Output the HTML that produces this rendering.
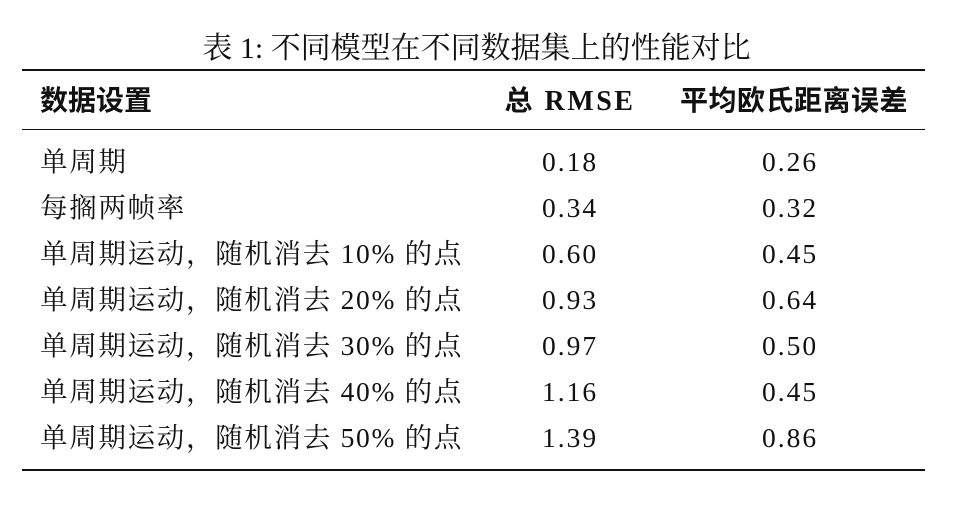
<!DOCTYPE html>
<html><head><meta charset="utf-8">
<style>
html,body{margin:0;padding:0;background:#fff;}
body{width:953px;height:531px;position:relative;overflow:hidden;font-family:"Liberation Serif","Noto Serif CJK SC",serif;color:#111;}
.t{position:absolute;white-space:nowrap;font-size:27.5px;line-height:30px;}
.rl{letter-spacing:1.7px;}
.rule{position:absolute;left:22px;width:903px;background:#111;}
.c2{left:470px;width:200px;text-align:center;letter-spacing:2px;}
.c3{left:690px;width:200px;text-align:center;letter-spacing:2px;}
.h{font-family:"Liberation Serif","Noto Sans CJK SC",sans-serif;font-weight:bold;font-size:28px;letter-spacing:0;}
</style></head>
<body>
<div class="t" style="left:0;width:953px;text-align:center;top:34px;font-size:30px;">表 1: 不同模型在不同数据集上的性能对比</div>
<div class="rule" style="top:69px;height:2px;"></div>
<div class="t h" style="left:40px;top:87px;">数据设置</div>
<div class="t h c2" style="top:87px;letter-spacing:2.5px;">总 RMSE</div>
<div class="t h c3" style="top:87px;left:680px;width:223px;letter-spacing:0.5px;">平均欧氏距离误差</div>
<div class="rule" style="top:129px;height:1px;"></div>
<div class="rule" style="top:469px;height:2px;"></div>
<script>
const settings=["单周期","每搁两帧率","单周期运动，随机消去 10% 的点","单周期运动，随机消去 20% 的点","单周期运动，随机消去 30% 的点","单周期运动，随机消去 40% 的点","单周期运动，随机消去 50% 的点"];
const rmse=["0.18","0.34","0.60","0.93","0.97","1.16","1.39"];
const eucl=["0.26","0.32","0.45","0.64","0.50","0.45","0.86"];
const host=document.body;
settings.forEach((s,i)=>{
  const top=147+i*46;
  const a=document.createElement('div');a.className='t rl';a.style.left='40px';a.style.top=top+'px';a.textContent=s;
  
  
  const b=document.createElement('div');b.className='t c2';b.style.top=top+'px';b.textContent=rmse[i];
  
  
  const c=document.createElement('div');c.className='t c3';c.style.top=top+'px';c.textContent=eucl[i];
  
  
  host.appendChild(a);host.appendChild(b);host.appendChild(c);
});
</script>
</body></html>
